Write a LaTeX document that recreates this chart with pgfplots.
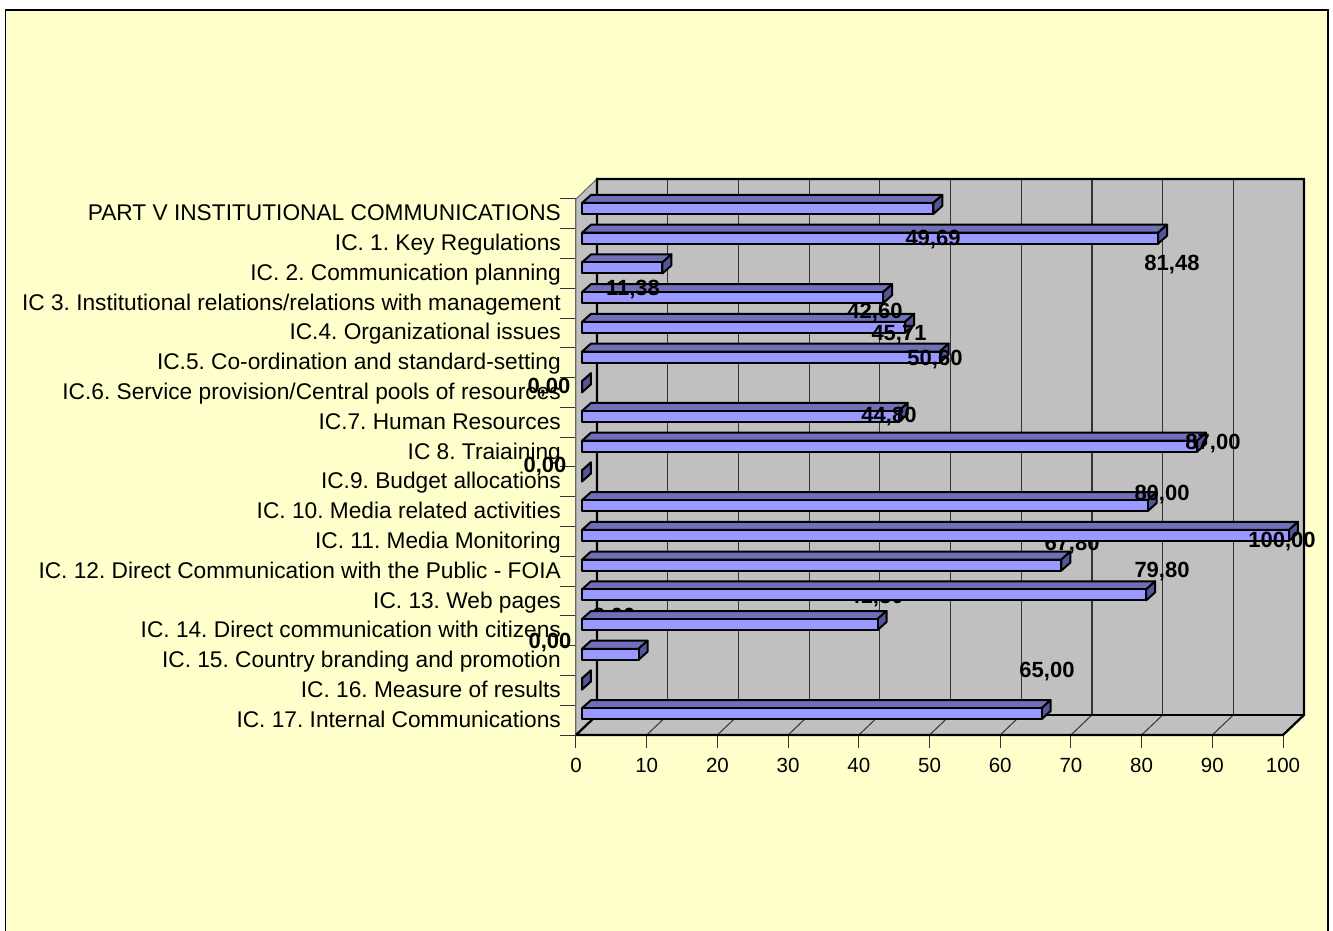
\documentclass[border=0pt]{standalone}
\usepackage{fontspec}
\setmainfont{Liberation Sans}
\usepackage{pgfplots}
\pgfplotsset{compat=1.18}
\definecolor{bgy}{HTML}{FFFFCC}
\definecolor{wall}{HTML}{C0C0C0}
\definecolor{bfront}{HTML}{9999FF}
\definecolor{btop}{HTML}{7070B8}
\definecolor{bside}{HTML}{555599}
\tikzset{
  barline/.style={draw=black,line width=2.0pt,line join=round},
  vallab/.style={font=\fontsize{22}{24}\bfseries\selectfont,inner sep=0pt,text=black,yshift=-1.5pt},
}
% #1 = y of the bar centre, #2 = value
\newcommand\hb[2]{%
  \pgfmathsetmacro\xa{0.85}%
  \pgfmathsetmacro\xb{0.85+#2}%
  \pgfmathsetmacro\xc{\xb+1.27}%
  \pgfmathsetmacro\xd{\xa+1.27}%
  \pgfmathsetmacro\ya{#1-0.185}%
  \pgfmathsetmacro\yb{#1+0.185}%
  \pgfmathsetmacro\yc{\ya+0.27}%
  \pgfmathsetmacro\yd{\yb+0.27}%
  \addplot[barline,fill=btop] coordinates {(\xa,\yb)(\xb,\yb)(\xc,\yd)(\xd,\yd)} --cycle;
  \addplot[barline,fill=bside] coordinates {(\xb,\ya)(\xb,\yb)(\xc,\yd)(\xc,\yc)} --cycle;
  \addplot[barline,fill=bfront] coordinates {(\xa,\ya)(\xb,\ya)(\xb,\yb)(\xa,\yb)} --cycle;
}
\newcommand\lab[3]{\node[vallab] at (axis cs:#1,#2) {#3};}
\frenchspacing
\begin{document}
\begin{tikzpicture}[x=1pt,y=1pt]
\path[use as bounding box] (0,0) rectangle (1333,930);
\fill[white] (0,0) rectangle (1333,930);
\draw[fill=bgy,draw=black,line width=1.6pt] (5.5,-10) rectangle (1328,920);
\begin{axis}[
  at={(576pt,195pt)},anchor=origin,
  scale only axis,width=707pt,height=536pt,
  xmin=0,xmax=100,ymin=0,ymax=18,
  clip=false,
  unbounded coords=jump,
  axis lines*=left,
  axis line style={draw=black!60,-,line width=1pt},
  xtick={0,10,...,100},
  ytick={0.5,1.5,...,17.5},
  minor ytick={0,1,...,18},
  yticklabels={IC. 17. Internal Communications,IC. 16. Measure of results,IC. 15. Country branding and promotion,IC. 14. Direct communication with citizens,IC. 13. Web pages,IC. 12. Direct Communication with the Public - FOIA,IC. 11. Media Monitoring,IC. 10. Media related activities,IC.9. Budget allocations,IC 8. Traiaining,IC.7. Human Resources,IC.6. Service provision/Central pools of resources,IC.5. Co-ordination and standard-setting,IC.4. Organizational issues,IC 3. Institutional relations/relations with management,IC. 2. Communication planning,IC. 1. Key Regulations,PART V INSTITUTIONAL COMMUNICATIONS},
  tick align=outside,
  major tick length=13pt,
  minor tick length=16pt,
  xtick style={draw=black!80,line width=1pt},
  ytick style={draw=none},
  minor y tick style={draw=black!80,line width=1pt},
  xticklabel style={font=\fontsize{20.5}{24}\selectfont,inner sep=0pt,yshift=-10pt},
  /pgf/number format/assume math mode=true,
  yticklabel style={font=\fontsize{22.7}{24}\selectfont,anchor=east,inner sep=0pt,xshift=-2pt,yshift=-1.5pt,text height=16pt,text depth=5pt},
]
% side wall and floor
\addplot[fill=wall,draw=none] coordinates {(0,0)(0,18)(2.97,18.672)(2.97,0.672)} --cycle;
\addplot[fill=wall,draw=none] coordinates {(0,0)(100,0)(102.97,0.672)(2.97,0.672)} --cycle;
% back wall
\addplot[fill=wall,draw=none] coordinates {(2.97,0.672)(102.97,0.672)(102.97,18.672)(2.97,18.672)} --cycle;
% grid lines
\addplot[draw=black!80,line width=1.2pt] coordinates {
 (12.97,0.672)(12.97,18.672) (nan,nan) (22.97,0.672)(22.97,18.672) (nan,nan) (32.97,0.672)(32.97,18.672) (nan,nan)
 (42.97,0.672)(42.97,18.672) (nan,nan) (52.97,0.672)(52.97,18.672) (nan,nan) (62.97,0.672)(62.97,18.672) (nan,nan)
 (72.97,0.672)(72.97,18.672) (nan,nan) (82.97,0.672)(82.97,18.672) (nan,nan) (92.97,0.672)(92.97,18.672)};
\addplot[draw=black!80,line width=1pt] coordinates {
 (10,0)(12.97,0.672) (nan,nan) (20,0)(22.97,0.672) (nan,nan) (30,0)(32.97,0.672) (nan,nan) (40,0)(42.97,0.672) (nan,nan)
 (50,0)(52.97,0.672) (nan,nan) (60,0)(62.97,0.672) (nan,nan) (70,0)(72.97,0.672) (nan,nan) (80,0)(82.97,0.672) (nan,nan) (90,0)(92.97,0.672)};
% outlines
\addplot[draw=black!60,line width=1pt] coordinates {(0,0)(0,18)(2.97,18.672)};
\addplot[draw=black,line width=2.3pt] coordinates {(0,0)(2.97,0.672)(2.97,18.672)(102.97,18.672)(102.97,0.672)(100,0)(0,0)};
\addplot[draw=black,line width=2.3pt] coordinates {(2.97,0.672)(102.97,0.672)};
% bars, lowest first, each followed by its label
\hb{0.715}{65.00}\lab{66.62}{2.18}{65,00}
\hb{1.713}{0.00}\lab{-3.68}{3.16}{0,00}
\hb{2.711}{8.00}\lab{5.37}{4.00}{8,00}
\hb{3.709}{41.80}\lab{42.43}{4.67}{41,80}
\hb{4.707}{79.80}\lab{82.89}{5.54}{79,80}
\hb{5.705}{67.80}\lab{70.16}{6.45}{67,80}
\hb{6.703}{100.00}\lab{99.86}{6.55}{100,00}
\hb{7.701}{80.00}\lab{82.89}{8.13}{80,00}
\hb{8.699}{0.00}\lab{-4.38}{9.07}{0,00}
\hb{9.697}{87.00}\lab{90.10}{9.84}{87,00}
\hb{10.695}{44.80}\lab{44.27}{10.75}{44,80}
\hb{11.693}{0.00}\lab{-3.82}{11.72}{0,00}
\hb{12.691}{50.60}\lab{50.78}{12.66}{50,60}
\hb{13.689}{45.71}\lab{45.69}{13.50}{45,71}
\hb{14.687}{42.60}\lab{42.29}{14.24}{42,60}
\hb{15.685}{11.38}\lab{8.06}{15.01}{11,38}
\hb{16.683}{81.48}\lab{84.30}{15.85}{81,48}
\hb{17.681}{49.69}\lab{50.50}{16.69}{49,69}
\end{axis}
\end{tikzpicture}
\end{document}
